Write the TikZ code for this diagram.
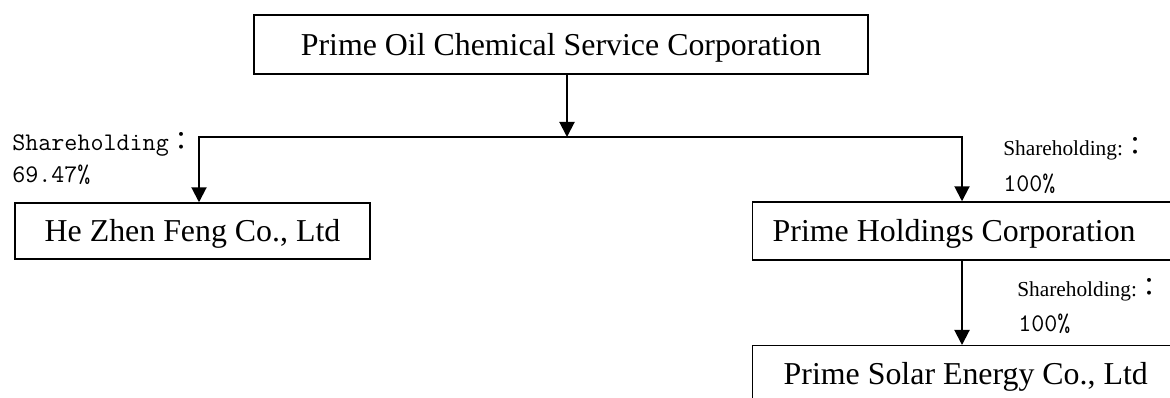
\documentclass[tikz,border=0pt]{standalone}
\usepackage{fontspec}
\setmainfont{Liberation Serif}
\newfontfamily\cjk{Noto Sans CJK TC}
\usetikzlibrary{arrows.meta}
\newcommand\fwcolon{{\cjk\fontsize{19.5}{22}\selectfont ：}}
\tikzset{co/.style = {rectangle, draw, line width=1.1pt, inner sep=0pt, font=\fontsize{23.9}{28}\selectfont, text height=16.3pt, text depth=0.5pt},
         sh/.style = {anchor=base west, inner sep=0pt, font=\ttfamily\fontsize{19}{22}\selectfont},
         sl/.style = {anchor=base west, inner sep=0pt, font=\fontsize{16}{19}\selectfont},
         ln/.style = {line width=1.5pt}}

\begin{document}
\begin{tikzpicture}[x=0.75pt, y=-0.75pt, >={Triangle[length=11.25pt, width=11.25pt]}]
    \clip (0,0) rectangle (1170,398);
    \node[co, minimum width=460.5pt, minimum height=44.25pt] (poc) at (561,44.5) {Prime Oil Chemical Service Corporation};
    \node[co, minimum width=266.25pt, minimum height=42pt] (hzf) at (192.5,231) {He Zhen Feng Co., Ltd};
    \node[co, anchor=west, text width=291pt, align=flush left, inner xsep=15pt, minimum height=43.5pt] (phc) at (752,231) {Prime Holdings Corporation};
    \node[co, anchor=north west, text width=283.5pt, align=flush left, inner xsep=23.25pt, minimum height=42.75pt] (pse) at (752,345) {Prime Solar Energy Co., Ltd};
    \coordinate (bar) at (567,137); \coordinate (barL) at (199,137); \coordinate (barR) at (962,137);
    \draw[->, ln] (bar |- poc.south) -- (bar);
    \draw[->, ln] (bar) -| (barL |- hzf.north);
    \draw[->, ln] (bar) -| (barR |- phc.north);
    \draw[->, ln] (barR |- phc.south) -- (barR |- pse.north);
    \node[sh] (shA) at (12,151) {Shareholding\fwcolon};
    \node[sh] (pcA) at (12,183) {69.47\%};
    \node[sl] (shB) at (1003,156) {Shareholding:\fwcolon};
    \node[sh] (pcB) at (1003,192) {100\%};
    \node[sl] (shC) at (1017,297) {Shareholding:\fwcolon};
    \node[sh] (pcC) at (1018,332) {100\%};
\end{tikzpicture}
\end{document}
